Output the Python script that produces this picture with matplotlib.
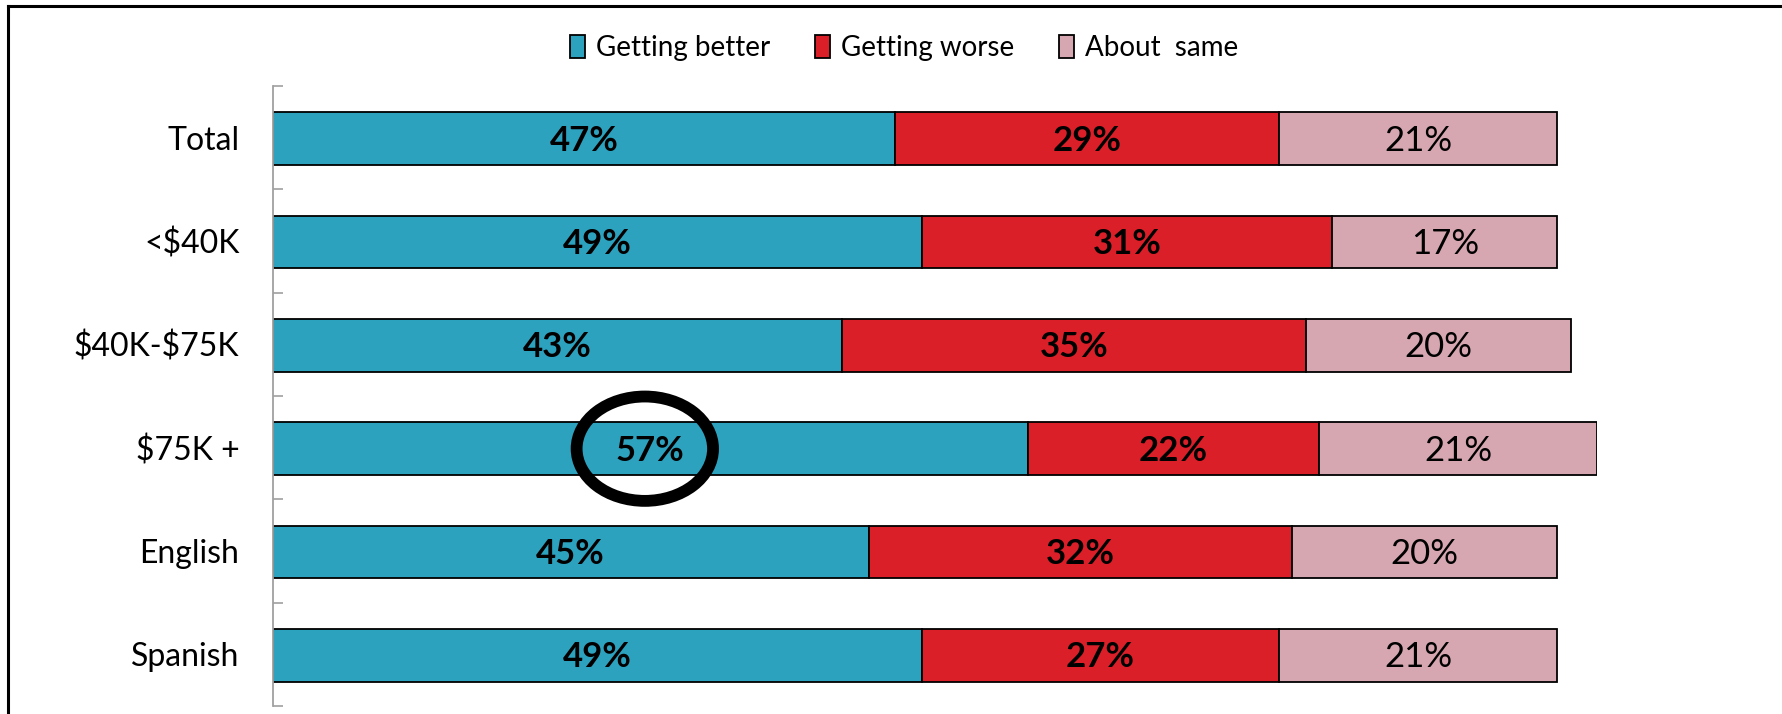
import matplotlib
matplotlib.use("Agg")
import matplotlib.pyplot as plt
import numpy as np
from matplotlib.lines import Line2D
from matplotlib.patches import Ellipse

categories = ["Total", "<$40K", "$40K-$75K", "$75K +", "English", "Spanish"]
better = [47, 49, 43, 57, 45, 49]
worse = [29, 31, 35, 22, 32, 27]
same = [21, 17, 20, 21, 20, 21]
series_names = ["Getting better", "Getting worse", "About  same"]
highlight = "$75K +"

colors = ["#2CA2BF", "#DA1F29", "#D6A7B0"]
plt.rcParams["font.family"] = ["Lato", "DejaVu Sans"]
plt.rcParams["text.parse_math"] = False

W, H = 1783, 714
fig = plt.figure(figsize=(W / 100, H / 100), dpi=100)
ax = fig.add_axes([272.7 / W, 8 / H, (1597 - 272.7) / W, (706 - 86) / H])

ys = np.arange(len(categories))
left = np.zeros(len(categories))
for vals, col, name, weight in zip([better, worse, same], colors, series_names, ["bold", "bold", "normal"]):
    vals = np.array(vals, dtype=float)
    ax.barh(ys + 0.01, vals, left=left, height=0.51, color=col, edgecolor="black",
            linewidth=1.3, label=name)
    for y, l, v in zip(ys, left, vals):
        ax.text(l + v / 2, y + 0.03, f"{int(v)}%", ha="center", va="center", fontsize=25,
                fontweight=weight, color="black", zorder=6)
    left += vals

# circle round the highlighted label
i = categories.index(highlight)
ax.add_patch(Ellipse((better[i] / 2 - 0.4, i + 0.01), width=10.3, height=1.01, fill=False,
                     edgecolor="black", linewidth=8.5, clip_on=False, zorder=5))

ax.set_xlim(0, 100)
ax.set_ylim(len(categories) - 0.5, -0.5)
ax.set_yticks(ys)
ax.set_yticklabels(categories, fontsize=23)
ax.set_yticks(np.arange(len(categories) + 1) - 0.5, minor=True)
ax.tick_params(axis="y", which="major", length=0, pad=24)
ax.tick_params(axis="y", which="minor", direction="in", length=7.2, width=1.2, color="#A0A0A0")
ax.xaxis.set_visible(False)
for s in ["top", "right", "bottom"]:
    ax.spines[s].set_visible(False)
ax.spines["left"].set_color("#A0A0A0")
ax.spines["left"].set_linewidth(1.3)

fig.legend(loc="center", bbox_to_anchor=(904 / W, 1 - 48 / H), ncol=3, frameon=False,
           fontsize=20, handlelength=0.55, handleheight=0.9, handletextpad=0.4,
           columnspacing=1.6)

# outer frame (left and top edges)
fig.add_artist(Line2D([8.5 / W, 8.5 / W], [0, 1 - 6 / H], transform=fig.transFigure, color="black", lw=2.2))
fig.add_artist(Line2D([8.5 / W, 1], [1 - 6 / H, 1 - 6 / H], transform=fig.transFigure, color="black", lw=2.2))

fig.savefig("out.png", dpi=100)
